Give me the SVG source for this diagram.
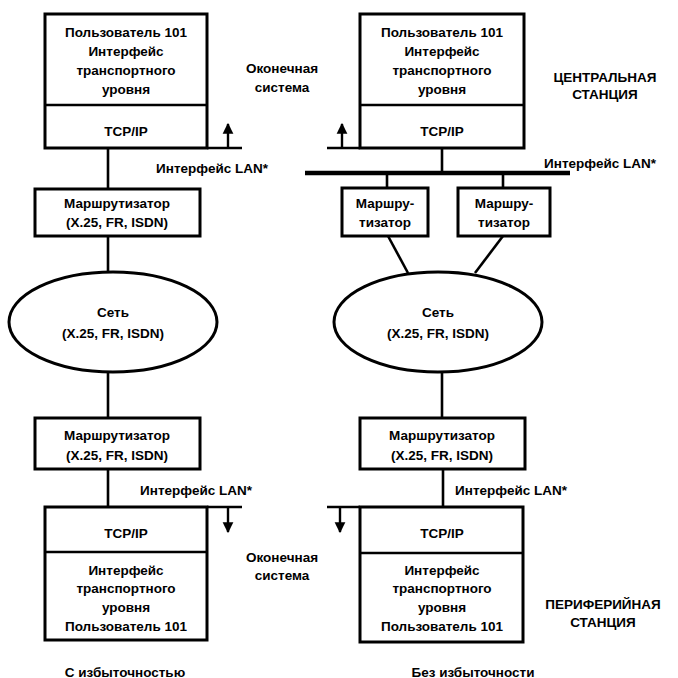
<svg xmlns="http://www.w3.org/2000/svg" width="678" height="678" viewBox="0 0 678 678">
<defs>
<marker id="ah" viewBox="0 0 10 10" refX="9" refY="5" markerWidth="4.5" markerHeight="5" orient="auto"><path d="M0,0 L10,5 L0,10 z" fill="#000"/></marker>
</defs>
<style>
text{font-family:"Liberation Sans",Arial,sans-serif;font-size:13.5px;font-weight:bold;fill:#000;text-anchor:middle;dominant-baseline:central}
.box{fill:#fff;stroke:#000;stroke-width:3}
.ln{stroke:#000;stroke-width:2.6;fill:none}
.bus{stroke:#000;stroke-width:4.5;fill:none}
.arr{stroke:#000;stroke-width:2.4;fill:none;marker-end:url(#ah)}
</style>
<rect width="678" height="678" fill="#fff"/>
<g id="connectors">
<line class="ln" x1="207" y1="148" x2="242" y2="148"/>
<line class="arr" x1="228" y1="148" x2="228" y2="124"/>
<line class="ln" x1="108" y1="148" x2="108" y2="189"/>
<line class="ln" x1="108" y1="236" x2="108" y2="272"/>
<line class="ln" x1="108" y1="372" x2="108" y2="418"/>
<line class="ln" x1="108" y1="469" x2="108" y2="507"/>
<line class="ln" x1="207" y1="507" x2="242" y2="507"/>
<line class="arr" x1="228" y1="507" x2="228" y2="532"/>
<line class="ln" x1="327" y1="148" x2="360" y2="148"/>
<line class="arr" x1="342" y1="148" x2="342" y2="124"/>
<line class="ln" x1="442" y1="148" x2="442" y2="173"/>
<line class="bus" x1="305" y1="173" x2="570" y2="173"/>
<line class="ln" x1="387" y1="173" x2="387" y2="188"/>
<line class="ln" x1="503" y1="173" x2="503" y2="188"/>
<line class="ln" x1="388" y1="236" x2="408" y2="273"/>
<line class="ln" x1="503" y1="236" x2="475" y2="273"/>
<line class="ln" x1="442" y1="372" x2="442" y2="418"/>
<line class="ln" x1="443" y1="469" x2="443" y2="507"/>
<line class="ln" x1="327" y1="507" x2="360" y2="507"/>
<line class="arr" x1="340" y1="507" x2="340" y2="532"/>
</g>
<g id="host-top-left">
<rect class="box" x="45" y="14" width="162" height="134"/>
<line class="ln" x1="45" y1="105" x2="207" y2="105"/>
<text x="126" y="32">Пользователь 101</text>
<text x="126" y="51">Интерфейс</text>
<text x="126" y="70">транспортного</text>
<text x="126" y="89">уровня</text>
<text x="126" y="131">TCP/IP</text>
</g>
<g id="host-top-right">
<rect class="box" x="360" y="14" width="164" height="134"/>
<line class="ln" x1="360" y1="105" x2="524" y2="105"/>
<text x="442" y="32">Пользователь 101</text>
<text x="442" y="51">Интерфейс</text>
<text x="442" y="70">транспортного</text>
<text x="442" y="89">уровня</text>
<text x="442" y="131">TCP/IP</text>
</g>
<g id="router-top-left">
<rect class="box" x="35" y="189" width="165" height="47"/>
<text x="117" y="203">Маршрутизатор</text>
<text x="117" y="222">(X.25, FR, ISDN)</text>
</g>
<g id="router-top-right-a">
<rect class="box" x="342" y="188" width="86" height="48"/>
<text x="385" y="203">Маршру-</text>
<text x="385" y="222">тизатор</text>
</g>
<g id="router-top-right-b">
<rect class="box" x="458" y="188" width="92" height="48"/>
<text x="504" y="203">Маршру-</text>
<text x="504" y="222">тизатор</text>
</g>
<g id="net-left">
<ellipse class="box" cx="113" cy="322" rx="104" ry="50"/>
<text x="113" y="312">Сеть</text>
<text x="113" y="333">(X.25, FR, ISDN)</text>
</g>
<g id="net-right">
<ellipse class="box" cx="438" cy="322" rx="104" ry="50"/>
<text x="438" y="312">Сеть</text>
<text x="438" y="333">(X.25, FR, ISDN)</text>
</g>
<g id="router-bottom-left">
<rect class="box" x="35" y="418" width="165" height="51"/>
<text x="117" y="435">Маршрутизатор</text>
<text x="117" y="455">(X.25, FR, ISDN)</text>
</g>
<g id="router-bottom-right">
<rect class="box" x="360" y="418" width="165" height="51"/>
<text x="442" y="435">Маршрутизатор</text>
<text x="442" y="455">(X.25, FR, ISDN)</text>
</g>
<g id="host-bottom-left">
<rect class="box" x="45" y="507" width="162" height="133"/>
<line class="ln" x1="45" y1="552" x2="207" y2="552"/>
<text x="126" y="533">TCP/IP</text>
<text x="126" y="570">Интерфейс</text>
<text x="126" y="588">транспортного</text>
<text x="126" y="607">уровня</text>
<text x="126" y="626">Пользователь 101</text>
</g>
<g id="host-bottom-right">
<rect class="box" x="360" y="507" width="163" height="135"/>
<line class="ln" x1="360" y1="553" x2="523" y2="553"/>
<text x="442" y="533">TCP/IP</text>
<text x="442" y="570">Интерфейс</text>
<text x="442" y="588">транспортного</text>
<text x="442" y="607">уровня</text>
<text x="442" y="626">Пользователь 101</text>
</g>
<g id="labels">
<text x="282" y="68">Оконечная</text>
<text x="282" y="87">система</text>
<text x="605" y="77">ЦЕНТРАЛЬНАЯ</text>
<text x="605" y="94">СТАНЦИЯ</text>
<text x="212" y="168">Интерфейс LAN*</text>
<text x="600" y="163">Интерфейс LAN*</text>
<text x="196" y="490">Интерфейс LAN*</text>
<text x="511" y="490">Интерфейс LAN*</text>
<text x="282" y="557">Оконечная</text>
<text x="282" y="575">система</text>
<text x="603" y="604">ПЕРИФЕРИЙНАЯ</text>
<text x="603" y="622">СТАНЦИЯ</text>
<text x="125" y="672">С избыточностью</text>
<text x="473" y="672">Без избыточности</text>
</g>
</svg>
